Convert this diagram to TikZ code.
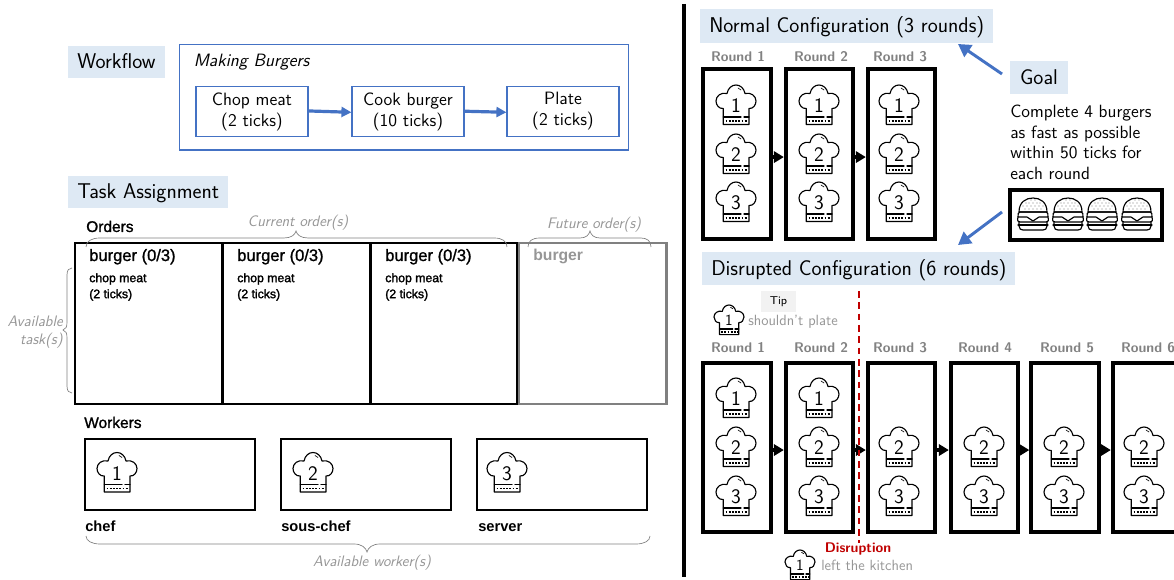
\documentclass[tikz,border=0pt]{standalone}
\usepackage{fontspec}
\setsansfont{Latin Modern Sans}
\newfontfamily\helv{Liberation Sans}
\newfontfamily\helvm[FakeBold=1.2]{Liberation Sans}
\newfontfamily\helvn[FakeBold=1.8]{Liberation Sans}
\usetikzlibrary{arrows.meta}
\definecolor{lblue}{RGB}{222,233,244}
\definecolor{mblue}{RGB}{68,114,196}
\definecolor{gtxt}{RGB}{150,150,150}
\definecolor{rtxt}{RGB}{130,130,130}
\definecolor{dred}{RGB}{192,0,0}
\newcommand{\fs}[1]{\fontsize{#1}{#1}\selectfont}
\newcommand{\fsb}[2]{\fontsize{#1}{#2}\selectfont}
\tikzset{
 every node/.style={font=\sffamily},
 title/.style={fill=lblue,anchor=west,inner xsep=6.75pt,inner ysep=4pt,text height=13pt,text depth=3.2pt,font=\sffamily\fs{16}},
 flow/.style={draw=mblue,line width=0.9pt,minimum width=84pt,minimum height=37.5pt,inner sep=0pt,align=center,font=\sffamily\fsb{13.4}{15.8},text=black},
 flowarrow/.style={draw=mblue,line width=2.4pt,-{Triangle[length=7.5pt,width=7.5pt]}},
 bluearrow/.style={draw=mblue,line width=2.2pt,-{Triangle[length=9.5pt,width=10.5pt]}},
 blackarrow/.style={draw=black,line width=2.4pt,-{Triangle[length=7.5pt,width=8.5pt]}},
 roundbox/.style={draw=black,line width=3pt,fill=white,minimum width=50.5pt,minimum height=127pt,inner sep=0pt},
 orderbox/.style={draw=black,line width=1.9pt,fill=white,minimum width=110.6pt,minimum height=121pt,inner sep=0pt},
 workerbox/.style={draw=black,line width=1.9pt,minimum width=127.5pt,minimum height=53.25pt,inner sep=0pt},
 roundlabel/.style={text=rtxt,font=\sffamily\bfseries\fs{10.5}},
 hlabel/.style={anchor=base west,inner sep=0pt,font=\helv\bfseries\fs{11}},
 ohead/.style={anchor=base west,inner sep=0pt,font=\helvm\fs{11.6}},
 olabel/.style={anchor=base west,inner sep=0pt,font=\helvm\fs{12.4}},
 tlabel/.style={anchor=north west,align=left,inner sep=0pt,font=\helvn\fsb{9.2}{12}},
 note/.style={text=gtxt,font=\sffamily\itshape\fs{11.4},inner sep=0pt},
 grayt/.style={text=gtxt,font=\sffamily\fs{11.1},inner sep=0pt},
 brace/.style={draw=gray,line width=0.5pt},
 hatline/.style={draw=black,line width=0.85pt,line join=round,line cap=round},
}
\newcommand{\chefhat}[5]{%
 \pgfmathsetmacro{\hsz}{#5*15.5}%
 \begin{scope}[shift={(#2,#3)},scale=#5]
 \draw[hatline,fill=white] (-12.7,3.5) .. controls (-17,4) and (-20,0) .. (-20,-4) .. controls (-20,-9) and (-15,-13) .. (-9,-11.5) .. controls (-8,-17) and (-4,-20) .. (0,-20) .. controls (4,-20) and (8,-17) .. (9,-11.5) .. controls (15,-13) and (20,-9) .. (20,-4) .. controls (20,0) and (17,4) .. (13,3.5) -- (13,19.5) -- (-12.7,19.5) -- cycle;
 \draw[hatline,line width=0.5pt] (2,-17) -- (5,-15);
 \draw[hatline] (-12.7,12) -- (5,12) (8,12) -- (13,12);
 \draw[black,line width=1.3pt,dash pattern=on 1.4pt off 1pt] (-10.5,16) -- (11,16);
 \node[inner sep=0pt,font=\sffamily\fs{\hsz}] (#1) at (0,1) {#4};
 \end{scope}}
\newcommand{\burger}[2]{%
 \begin{scope}[shift={(#1,#2)}]
 \draw[hatline] (-14,-2) .. controls (-14,-12) and (-7,-16) .. (0,-16) .. controls (7,-16) and (14,-12) .. (14,-2) -- cycle;
 \foreach \a/\b in {-8/-5,-4/-5,0/-5,4/-5,8/-5,-10/-8,-6/-8,-2/-8,2/-8,6/-8,10/-8,-4/-11,0/-11,4/-11,-7/-11,7/-11,-2/-14,2/-14}
   {\fill[gray] (\a,\b) circle (0.7);}
 \draw[hatline] (-15,3) .. controls (-15,0) and (-15,-2) .. (-13,-2) -- (13,-2) .. controls (15,-2) and (15,0) .. (15,3)
    -- (6,3) -- (0,7) -- (-6,3) -- cycle;
 \draw[hatline] (-15,3) .. controls (-16,7) and (-15,8) .. (-13,8) -- (13,8) .. controls (15,8) and (16,7) .. (15,3);
 \draw[hatline] (-15,11) -- (15,11);
 \draw[hatline] (-14,8) -- (-14,12) .. controls (-14,15) and (-12,16) .. (-10,16) -- (10,16) .. controls (12,16) and (14,15) .. (14,12) -- (14,8);
 \end{scope}}
\begin{document}
\begin{tikzpicture}[x=0.75pt,y=-0.75pt]
\clip (0,0) rectangle (1174,580);
\fill[white] (0,0) rectangle (1174,580);
% divider
\draw[line width=2.6pt] (684,4) -- (684,577);
% workflow
\node[title] (wf) at (68,62) {Workflow};
\node[draw=mblue,line width=1pt,minimum width=337pt,minimum height=79pt,inner sep=0pt] (mb) at (404,97.5) {};
\node[inner sep=0pt,font=\sffamily\itshape\fs{13.4}] (mbt) at (251.5,62) {Making Burgers};
\node[flow] (chop) at (252,111.5) {Chop meat\\(2 ticks)};
\node[flow] (cook) at (408,111.5) {Cook burger\\(10 ticks)};
\node[flow] (plate) at (563,111.5) {Plate\\(2 ticks)};
\draw[flowarrow] ([yshift=0.4pt]chop.east) -- ([yshift=-0.6pt]cook.west);
\draw[flowarrow] ([yshift=0.2pt]cook.east) -- ([yshift=-0.6pt]plate.west);
% task
\node[title] (ta) at (68,192) {Task Assignment\hspace{1.5pt}};
\node[ohead] (orders) at (86,232) {Orders};
\node[orderbox] (o1) at (148.8,323.5) {};
\node[orderbox] (o2) at (296.2,323.5) {};
\node[orderbox] (o3) at (444,323.5) {};
\node[orderbox,draw=gray] (o4) at (592.5,323.5) {};
\foreach \n/\x in {1/89,2/237,3/385}{
 \node[olabel] (b\n) at (\x,261) {burger (0/3)};
 \node[tlabel] (t\n) at (\x,273) {chop meat\\(2 ticks)};
}
\node[olabel,text=gtxt,font=\helv\bfseries\fs{11.8}] (b4) at (533,261) {burger};
% braces
\draw[brace] (86,247) .. controls (86,241) and (92,238) .. (100,238) -- (284,238) .. controls (291,238) and (295,235) .. (296,231) .. controls (297,235) and (301,238) .. (308,238) -- (494,238) .. controls (502,238) and (507,241) .. (507,247);
\node[note] (cur) at (298,223) {Current order(s)};
\draw[brace] (528,247) .. controls (528,241) and (532,238) .. (540,238) -- (580,238) .. controls (586,238) and (589,235) .. (590,231) .. controls (591,235) and (594,238) .. (600,238) -- (641,238) .. controls (647,238) and (651,241) .. (651,247);
\node[note] (fut) at (594,225) {Future order(s)};
\draw[brace] (72,268) .. controls (69,268) and (67,270) .. (67,275) -- (67,322) .. controls (67,327) and (66,329) .. (63,330) .. controls (66,331) and (67,333) .. (67,338) -- (67,386) .. controls (67,391) and (69,393) .. (72,393);
\node[note,anchor=east] (av) at (63,321) {Available};
\node[note,anchor=east] (tk) at (63,341) {task(s)};
% workers
\node[ohead] (workers) at (84,428) {Workers};
\node[workerbox] (w1) at (170,474.5) {};
\node[workerbox] (w2) at (366,474.5) {};
\node[workerbox] (w3) at (562,474.5) {};
\chefhat{wh1}{117}{472.5}{1}{1}
\chefhat{wh2}{313}{472.5}{2}{1}
\chefhat{wh3}{507}{472.5}{3}{1}
\node[hlabel] (chef) at (85,532) {chef};
\node[hlabel] (sous) at (281,532) {sous-chef};
\node[hlabel] (server) at (478,532) {server};
\draw[brace] (86,536) .. controls (86,541) and (92,544) .. (100,544) -- (354,544) .. controls (362,544) and (366,548) .. (367,552) .. controls (368,548) and (372,544) .. (380,544) -- (636,544) .. controls (644,544) and (650,541) .. (650,536);
\node[note] (avw) at (372,563) {Available worker(s)};
% right top
\node[title,minimum height=25pt] (normal) at (700,26) {Normal Configuration (3 rounds)\hspace{2.5pt}};
\foreach \n/\x/\cx/\lx in {1/737/736/738,2/819.5/819/821,3/901.5/899/900}{
 \node[roundbox] (n\n) at (\x,154) {};
 \node[roundlabel] (nl\n) at (\lx,57) {Round \n};
 \chefhat{na\n}{\cx}{105}{1}{1}
 \chefhat{nb\n}{\cx}{154}{2}{1}
 \chefhat{nc\n}{\cx}{202}{3}{1}
}
\draw[blackarrow] ([yshift=-2.3pt]n1.east) -- ([yshift=-2.3pt]n2.west);
\draw[blackarrow] ([yshift=-2.3pt]n2.east) -- ([yshift=-2.3pt]n3.west);
% goal
\node[title,inner xsep=0pt,minimum width=43.5pt,minimum height=25pt,anchor=center] (goal) at (1039,77.5) {Goal};
\node[anchor=north west,align=left,inner sep=0pt,font=\sffamily\fsb{13.3}{15.4}] (gtext) at (1010,105) {Complete 4 burgers\\as fast as possible\\within 50 ticks for\\each round};
\node[draw=black,line width=3pt,minimum width=114pt,minimum height=38pt,inner sep=0pt] (bbox) at (1086,215) {};
\foreach \x in {1033,1068,1102,1137}{\burger{\x}{214}}
\coordinate (g1) at (1002,74);
\coordinate (g2) at (958,44);
\coordinate (g3) at (1002,212);
\coordinate (g4) at (958,245);
\draw[bluearrow] (g1) -- (g2);
\draw[bluearrow] (g3) -- (g4);
% disrupted
\node[title,minimum height=25pt] (disr) at (702,268.5) {Disrupted Configuration (6 rounds)\hspace{4pt}};
\node[fill=black!5,inner sep=0pt,minimum width=26pt,minimum height=16pt,font=\sffamily\fs{8.5}] (tip) at (778.5,301.5) {Tip};
\chefhat{tiph}{729}{320}{1}{0.75}
\node[grayt,anchor=west] (sp) at (748,322) {shouldn't plate};
\foreach \n/\x/\lx in {1/737/738,2/819.5/821,3/901.5/900,4/984.5/985,5/1065/1067,6/1146.5/1148}{
 \node[roundbox] (d\n) at (\x,447.5) {};
 \node[roundlabel] (dl\n) at (\lx,348) {Round \n};
}
\foreach \n/\cx in {1/736,2/819}{
 \chefhat{da\n}{\cx}{398}{1}{1}
}
\foreach \n/\cx in {1/736,2/819,3/899,4/984,5/1064,6/1144}{
 \chefhat{db\n}{\cx}{447}{2}{1}
 \chefhat{dc\n}{\cx}{496}{3}{1}
}
\foreach \a/\b in {1/2,2/3,3/4,4/5,5/6}{
 \draw[blackarrow] ([yshift=-1.9pt]d\a.east) -- ([yshift=-1.9pt]d\b.west);
}
\coordinate (rd1) at (859,291);
\coordinate (rd2) at (859,543);
\draw[dred,line width=1.3pt,dash pattern=on 5pt off 3.5pt] (rd1) -- (rd2);
\node[text=dred,inner sep=0pt,font=\sffamily\bfseries\fs{10.5}] (dt) at (858,549) {Disruption};
\chefhat{lefth}{800}{565}{1}{0.75}
\node[grayt,anchor=west] (lk) at (821,565) {left the kitchen};
\end{tikzpicture}
\end{document}
